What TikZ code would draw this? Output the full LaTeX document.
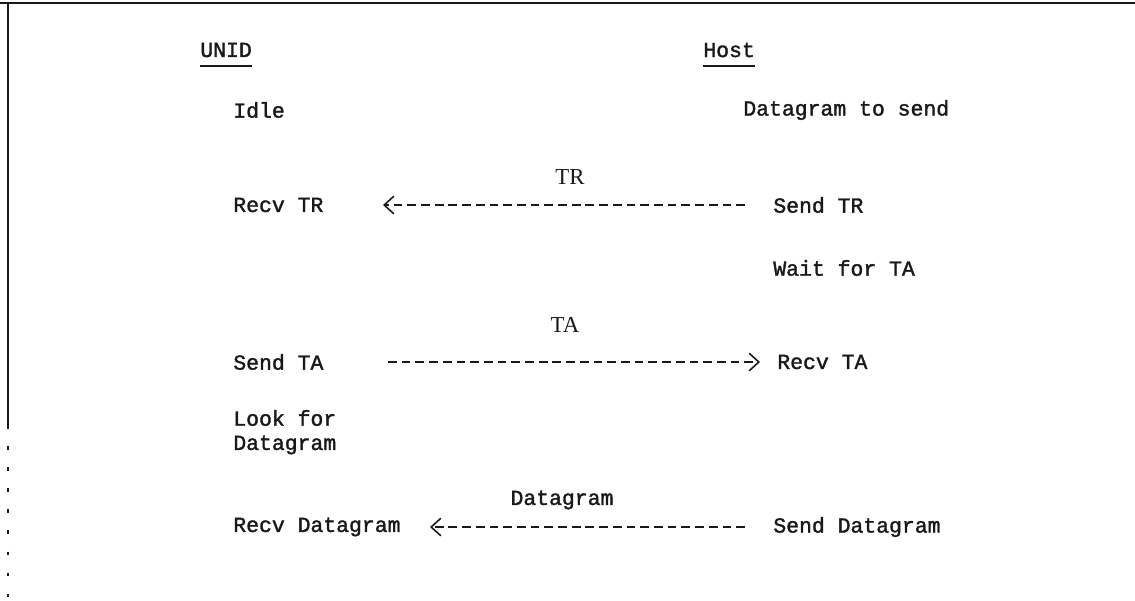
\documentclass[tikz,border=0pt]{standalone}
\usepackage{fontspec}
\setmonofont[FakeBold=1.6]{Liberation Mono}
\newfontfamily\labelfont{Liberation Serif}
\usetikzlibrary{arrows.meta}
\definecolor{ink}{gray}{0.1}
\tikzset{
  txt/.style={anchor=west, inner sep=0pt, text=ink, font=\ttfamily\fontsize{12.2}{14}\selectfont},
  head/.style={txt},
  msg/.style={inner sep=0pt, text=ink, font=\labelfont\fontsize{13}{15}\selectfont},
  msgtt/.style={inner sep=0pt, text=ink, font=\ttfamily\fontsize{12.2}{14}\selectfont},
  flow/.style={draw=ink, line width=1.2pt, dash pattern=on 5pt off 2.8pt,
    -{Straight Barb[length=5.5pt,width=10pt,line width=0.9pt]}},
  frame/.style={draw=ink, line width=1.2pt}
}
\begin{document}
\begin{tikzpicture}[x=0.02cm,y=-0.02cm]
\useasboundingbox (0,0) rectangle (1135,600);
% sheet edges
\draw[frame] (0,3) -- (1135,3);
\draw[ink, line width=0.6pt] (8,3) -- (8,425);
\draw[ink, line width=0.7pt, dash pattern=on 2pt off 10pt] (8,425) -- (8,600);
% column headings
\node[head] (unid) at (200,50) {UNID};
\node[head] (host) at (703,50) {Host};
\draw[ink, line width=1.1pt] ([yshift=-5pt]unid.south west) -- ([yshift=-5pt]unid.south east);
\draw[ink, line width=1.1pt] ([yshift=-5pt]host.south west) -- ([yshift=-5pt]host.south east);
% UNID states
\node[txt] (idle) at (233,110) {Idle};
\node[txt] (recvtr) at (233,205) {Recv TR};
\node[txt] (sendta) at (233,362) {Send TA};
\node[txt] (look) at (233,418) {Look for};
\node[txt] (lookd) at (233,445) {Datagram};
\node[txt] (recvdg) at (233,527) {Recv Datagram};
% Host states
\node[txt] (dgsend) at (743,110) {Datagram to send};
\node[txt] (sendtr) at (773,205) {Send TR};
\node[txt] (waitta) at (773,268) {Wait for TA};
\node[txt] (recvta) at (777,362) {Recv TA};
\node[txt] (senddg) at (773,527) {Send Datagram};
% messages between the two stations
\draw[flow] ([xshift=-28*0.02cm]sendtr.west) -- ([xshift=150*0.02cm]recvtr.west);
\draw[flow] ([xshift=155*0.02cm]sendta.west) -- ([xshift=-17*0.02cm]recvta.west);
\draw[flow] ([xshift=-28*0.02cm]senddg.west) -- ([xshift=197*0.02cm]recvdg.west);
% message names
\node[msg] (trlbl) at ([xshift=337*0.02cm, yshift=28*0.02cm]recvtr.west) {TR};
\node[msg] (talbl) at ([xshift=332*0.02cm, yshift=37*0.02cm]sendta.west) {TA};
\node[msgtt] (dglbl) at ([xshift=329*0.02cm, yshift=27*0.02cm]recvdg.west) {Datagram};
\end{tikzpicture}
\end{document}
